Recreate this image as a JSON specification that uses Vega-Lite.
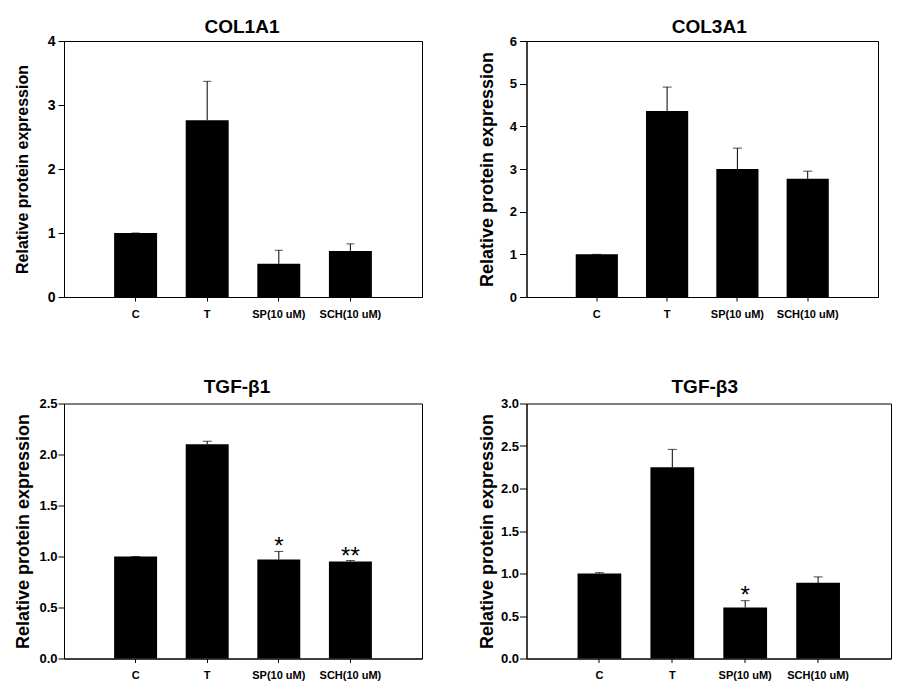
{
  "$schema": "https://vega.github.io/schema/vega-lite/v6.json",
  "background": "white",
  "padding": {"left": 13, "top": 17, "right": 0, "bottom": 0},
  "datasets": {
    "col1a1": [
      {"group": "C", "value": 1.0, "upper": 1.0, "sig": ""},
      {"group": "T", "value": 2.76, "upper": 3.37, "sig": ""},
      {"group": "SP(10 uM)", "value": 0.52, "upper": 0.73, "sig": ""},
      {"group": "SCH(10 uM)", "value": 0.72, "upper": 0.83, "sig": ""}
    ],
    "col3a1": [
      {"group": "C", "value": 1.0, "upper": 1.0, "sig": ""},
      {"group": "T", "value": 4.36, "upper": 4.92, "sig": ""},
      {"group": "SP(10 uM)", "value": 3.0, "upper": 3.49, "sig": ""},
      {"group": "SCH(10 uM)", "value": 2.77, "upper": 2.95, "sig": ""}
    ],
    "tgfb1": [
      {"group": "C", "value": 1.0, "upper": 1.0, "sig": ""},
      {"group": "T", "value": 2.10, "upper": 2.13, "sig": ""},
      {"group": "SP(10 uM)", "value": 0.97, "upper": 1.05, "sig": "*"},
      {"group": "SCH(10 uM)", "value": 0.95, "upper": 0.96, "sig": "**"}
    ],
    "tgfb3": [
      {"group": "C", "value": 1.0, "upper": 1.01, "sig": ""},
      {"group": "T", "value": 2.25, "upper": 2.46, "sig": ""},
      {"group": "SP(10 uM)", "value": 0.60, "upper": 0.68, "sig": "*"},
      {"group": "SCH(10 uM)", "value": 0.89, "upper": 0.96, "sig": ""}
    ]
  },
  "columns": 2,
  "align": "none",
  "spacing": {"row": 57.5, "column": 54.5},
  "concat": [
    {
      "data": {"name": "col1a1"},
      "width": 358, "height": 256,
      "title": {"text": "COL1A1", "offset": -2.5, "dx": -1},
      "encoding": {
        "x": {"field": "group", "type": "nominal", "sort": null,
              "scale": {"paddingInner": 0.4, "paddingOuter": 0.7},
              "axis": {"title": null, "labelAngle": 0, "tickSize": 4, "labelPadding": 7}}
      },
      "layer": [
        {"mark": {"type": "bar", "color": "black"},
         "encoding": {"y": {"field": "value", "type": "quantitative",
           "scale": {"domain": [0, 4], "nice": false},
           "axis": {"title": "Relative protein expression", "titleFontSize": 16, "values": [0,1,2,3,4], "format": "d",
                    "labelFontSize": 14, "tickSize": 6, "labelPadding": 3, "minExtent": 17, "maxExtent": 17, "titlePadding": 17}}}},
        {"mark": {"type": "rule", "color": "black", "strokeWidth": 1},
         "encoding": {"y": {"field": "value", "type": "quantitative"}, "y2": {"field": "upper"}}},
        {"mark": {"type": "tick", "color": "black", "thickness": 1, "size": 8},
         "encoding": {"y": {"field": "upper", "type": "quantitative"}}}
      ]
    },
    {
      "data": {"name": "col3a1"},
      "width": 351.5, "height": 256,
      "title": {"text": "COL3A1", "offset": -2, "dx": 7},
      "encoding": {
        "x": {"field": "group", "type": "nominal", "sort": null,
              "scale": {"paddingInner": 0.4, "paddingOuter": 0.7},
              "axis": {"title": null, "labelAngle": 0, "tickSize": 4, "labelPadding": 7}}
      },
      "layer": [
        {"mark": {"type": "bar", "color": "black"},
         "encoding": {"y": {"field": "value", "type": "quantitative",
           "scale": {"domain": [0, 6], "nice": false},
           "axis": {"title": "Relative protein expression", "titleFontSize": 18, "values": [0,1,2,3,4,5,6], "format": "d",
                    "labelFontSize": 13, "tickSize": 7, "labelPadding": 3, "minExtent": 18, "maxExtent": 18, "titlePadding": 12}}}},
        {"mark": {"type": "rule", "color": "black", "strokeWidth": 1},
         "encoding": {"y": {"field": "value", "type": "quantitative"}, "y2": {"field": "upper"}}},
        {"mark": {"type": "tick", "color": "black", "thickness": 1, "size": 9},
         "encoding": {"y": {"field": "upper", "type": "quantitative"}}}
      ]
    },
    {
      "data": {"name": "tgfb1"},
      "width": 358, "height": 255,
      "title": {"text": "TGF-β1", "offset": 0.5, "dx": -6},
      "encoding": {
        "x": {"field": "group", "type": "nominal", "sort": null,
              "scale": {"paddingInner": 0.4, "paddingOuter": 0.7},
              "axis": {"title": null, "labelAngle": 0, "tickSize": 4, "labelPadding": 7}}
      },
      "layer": [
        {"mark": {"type": "bar", "color": "black"},
         "encoding": {"y": {"field": "value", "type": "quantitative",
           "scale": {"domain": [0, 2.5], "nice": false},
           "axis": {"title": "Relative protein expression", "titleFontSize": 18, "values": [0,0.5,1,1.5,2,2.5], "format": ".1f",
                    "labelFontSize": 13, "tickSize": 6, "labelPadding": 1, "minExtent": 26, "maxExtent": 26, "titlePadding": 6}}}},
        {"mark": {"type": "rule", "color": "black", "strokeWidth": 1},
         "encoding": {"y": {"field": "value", "type": "quantitative"}, "y2": {"field": "upper"}}},
        {"mark": {"type": "tick", "color": "black", "thickness": 1, "size": 9},
         "encoding": {"y": {"field": "upper", "type": "quantitative"}}},
        {"mark": {"type": "text", "color": "black", "fontSize": 24, "baseline": "alphabetic", "dy": 3, "font": "Liberation Sans"},
         "encoding": {"y": {"field": "upper", "type": "quantitative"}, "text": {"field": "sig"}}}
      ]
    },
    {
      "data": {"name": "tgfb3"},
      "width": 364.5, "height": 255,
      "title": {"text": "TGF-β3", "offset": 0.5, "dx": -4},
      "encoding": {
        "x": {"field": "group", "type": "nominal", "sort": null,
              "scale": {"paddingInner": 0.4, "paddingOuter": 0.7},
              "axis": {"title": null, "labelAngle": 0, "tickSize": 4, "labelPadding": 7}}
      },
      "layer": [
        {"mark": {"type": "bar", "color": "black"},
         "encoding": {"y": {"field": "value", "type": "quantitative",
           "scale": {"domain": [0, 3], "nice": false},
           "axis": {"title": "Relative protein expression", "titleFontSize": 18, "values": [0,0.5,1,1.5,2,2.5,3], "format": ".1f",
                    "labelFontSize": 13, "tickSize": 7, "labelPadding": 1, "minExtent": 27, "maxExtent": 27, "titlePadding": 3}}}},
        {"mark": {"type": "rule", "color": "black", "strokeWidth": 1},
         "encoding": {"y": {"field": "value", "type": "quantitative"}, "y2": {"field": "upper"}}},
        {"mark": {"type": "tick", "color": "black", "thickness": 1, "size": 9},
         "encoding": {"y": {"field": "upper", "type": "quantitative"}}},
        {"mark": {"type": "text", "color": "black", "fontSize": 24, "baseline": "alphabetic", "dy": 2, "font": "Liberation Sans"},
         "encoding": {"y": {"field": "upper", "type": "quantitative"}, "text": {"field": "sig"}}}
      ]
    }
  ],
  "config": {
    "font": "Liberation Sans",
    "view": {"stroke": "black", "strokeWidth": 1},
    "title": {"font": "Liberation Sans", "fontSize": 19, "fontWeight": "bold", "color": "black", "anchor": "middle", "frame": "group"},
    "axis": {
      "labelFont": "Liberation Sans", "labelFontWeight": "bold", "labelColor": "black", "labelFontSize": 11,
      "titleFont": "Liberation Sans", "titleFontWeight": "bold", "titleColor": "black",
      "domainColor": "black", "tickColor": "black", "grid": false, "labelOverlap": false
    }
  }
}
